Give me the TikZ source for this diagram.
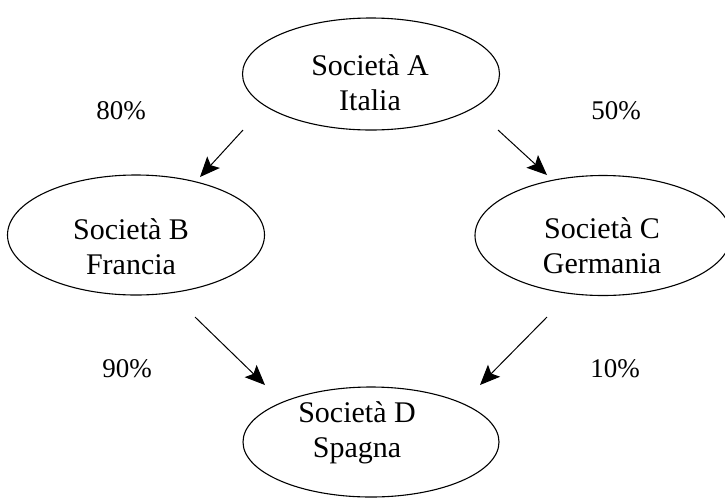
\documentclass[tikz,border=0pt]{standalone}
\usepackage{fontspec}
\setmainfont{Liberation Serif}
\usetikzlibrary{shapes.geometric,arrows.meta}
\begin{document}
\begin{tikzpicture}[x=1pt,y=-1pt,
  soc/.style={draw=black,line width=1.1pt,ellipse,inner sep=0pt},
  txt/.style={align=center,font=\fontsize{30}{35}\selectfont,inner sep=0pt},
  pct/.style={font=\fontsize{27}{30}\selectfont,inner sep=0pt},
  link/.style={draw=black,line width=1pt,-{Stealth[length=20pt,width=17pt,inset=4pt]}}]
\useasboundingbox (0,0) rectangle (725,499);
\begin{scope}
\clip (0,0) rectangle (725,499);
\node[soc,minimum width=257pt,minimum height=112pt] (A) at (371,74) {};
\node[soc,minimum width=257pt,minimum height=120pt] (B) at (136,235) {};
\node[soc,minimum width=256pt,minimum height=120pt] (C) at (603,235.5) {};
\node[soc,minimum width=256pt,minimum height=110pt] (D) at (371,442) {};
\end{scope}
\node[txt] (At) at (370,83) {Società A\\Italia};
\node[txt] (Bt) at (131,247) {Società B\\Francia};
\node[txt] (Ct) at (602,246) {Società C\\Germania};
\node[txt] (Dt) at (357,433) {Società D\\Spagna};
\node[pct] (p80) at (121,111) {80\%};
\node[pct] (p50) at (616,111) {50\%};
\node[pct] (p90) at (127,369) {90\%};
\node[pct] (p10) at (615,369) {10\%};
\coordinate (ab1) at (243,130);
\coordinate (ab2) at (200,177);
\coordinate (ac1) at (498,130);
\coordinate (ac2) at (547,175);
\coordinate (bd1) at (195,317);
\coordinate (bd2) at (265,385);
\coordinate (cd1) at (547,317);
\coordinate (cd2) at (480,385);
\draw[link] (ab1) -- (ab2);
\draw[link] (ac1) -- (ac2);
\draw[link] (bd1) -- (bd2);
\draw[link] (cd1) -- (cd2);
\end{tikzpicture}
\end{document}
